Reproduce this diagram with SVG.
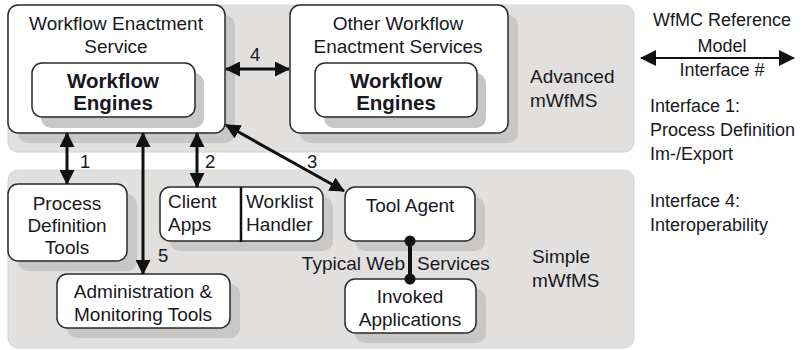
<svg xmlns="http://www.w3.org/2000/svg" width="801" height="350" viewBox="0 0 801 350">
  <defs>
    <marker id="head" viewBox="0 0 15 15" refX="14" refY="7.5" markerWidth="15" markerHeight="15" markerUnits="userSpaceOnUse" orient="auto-start-reverse">
      <path d="M0,0 L15,7.5 L0,15 z" fill="#111"/>
    </marker>
    <marker id="headL" viewBox="0 0 16 16" refX="15" refY="8" markerWidth="16" markerHeight="16" markerUnits="userSpaceOnUse" orient="auto-start-reverse">
      <path d="M0,0 L16,8 L0,16 z" fill="#111"/>
    </marker>
  </defs>
  <style>
    text { font-family: "Liberation Sans", Arial, sans-serif; font-size: 19px; fill: #181822; }
    .c { text-anchor: middle; }
    .b { font-weight: bold; font-size: 20.5px; }
    .num { font-size: 18.5px; }
    .leg { font-size: 18px; }
    .panel { fill: #e2e0df; stroke: #d6d4d3; stroke-width: 1; }
    .shadow { fill: #c9c7c5; }
    .box { fill: #ffffff; stroke: #2a2a2a; stroke-width: 1.5; }
    .conn { stroke: #111; stroke-width: 3; fill: none; }
  </style>

  <!-- background areas -->
  <rect class="panel" x="8" y="5" width="626" height="147" rx="10"/>
  <rect class="panel" x="8" y="170" width="626" height="178" rx="10"/>
  <text x="530" y="83">Advanced</text>
  <text x="530" y="107">mWfMS</text>
  <text x="532" y="263">Simple</text>
  <text x="532" y="287">mWfMS</text>

  <!-- Workflow Enactment Service -->
  <g id="wes">
    <rect class="shadow" x="18" y="15" width="217" height="128" rx="10"/>
    <rect class="box" x="8" y="5" width="217" height="128" rx="10"/>
    <text class="c" x="116" y="30">Workflow Enactment</text>
    <text class="c" x="116" y="53">Service</text>
  </g>
  <g id="wes-engines">
    <rect class="shadow" x="41" y="73" width="163" height="55" rx="10"/>
    <rect class="box" x="32" y="63" width="163" height="54" rx="10"/>
    <text class="c b" x="113" y="88">Workflow</text>
    <text class="c b" x="113" y="110">Engines</text>
  </g>

  <!-- Other Workflow Enactment Services -->
  <g id="owes">
    <rect class="shadow" x="300" y="15" width="218" height="128" rx="10"/>
    <rect class="box" x="290" y="5" width="218" height="128" rx="10"/>
    <text class="c" x="398" y="30">Other Workflow</text>
    <text class="c" x="398" y="53">Enactment Services</text>
  </g>
  <g id="owes-engines">
    <rect class="shadow" x="324" y="73" width="162" height="55" rx="10"/>
    <rect class="box" x="315" y="63" width="162" height="54" rx="10"/>
    <text class="c b" x="396" y="88">Workflow</text>
    <text class="c b" x="396" y="110">Engines</text>
  </g>

  <!-- Process Definition Tools -->
  <g id="pdt">
    <rect class="shadow" x="18" y="194" width="119" height="77" rx="10"/>
    <rect class="box" x="8" y="184" width="119" height="77" rx="10"/>
    <text class="c" x="67" y="210">Process</text>
    <text class="c" x="67" y="232">Definition</text>
    <text class="c" x="67" y="254">Tools</text>
  </g>

  <!-- Client Apps / Worklist Handler -->
  <g id="client">
    <rect class="shadow" x="170" y="197" width="163" height="54" rx="10"/>
    <rect class="box" x="160" y="187" width="163" height="54" rx="10"/>
    <line x1="241" y1="187" x2="241" y2="242" stroke="#111" stroke-width="2.5"/>
    <text x="168" y="208">Client</text>
    <text x="168" y="231">Apps</text>
    <text x="246" y="208">Worklist</text>
    <text x="246" y="231">Handler</text>
  </g>

  <!-- Tool Agent -->
  <g id="agent">
    <rect class="shadow" x="355" y="197" width="130" height="54" rx="10"/>
    <rect class="box" x="345" y="187" width="130" height="54" rx="10"/>
    <text class="c" x="410" y="212">Tool Agent</text>
  </g>

  <!-- Administration & Monitoring Tools -->
  <g id="admin">
    <rect class="shadow" x="67" y="284" width="173" height="54" rx="10"/>
    <rect class="box" x="57" y="274" width="173" height="54" rx="10"/>
    <text class="c" x="143" y="298">Administration &amp;</text>
    <text class="c" x="143" y="321">Monitoring Tools</text>
  </g>

  <!-- Invoked Applications -->
  <g id="invoked">
    <rect class="shadow" x="355" y="289" width="131" height="54" rx="10"/>
    <rect class="box" x="345" y="279" width="131" height="54" rx="10"/>
    <text class="c" x="410" y="303">Invoked</text>
    <text class="c" x="410" y="326">Applications</text>
  </g>

  <!-- connectors -->
  <g id="connectors">
    <line class="conn" x1="226" y1="69" x2="289" y2="69" marker-start="url(#head)" marker-end="url(#head)"/>
    <line class="conn" x1="67" y1="133" x2="67" y2="184" marker-start="url(#head)" marker-end="url(#head)"/>
    <line class="conn" x1="143" y1="133" x2="143" y2="274" marker-start="url(#head)" marker-end="url(#head)"/>
    <line class="conn" x1="197" y1="133" x2="197" y2="187" marker-start="url(#head)" marker-end="url(#head)"/>
    <line class="conn" x1="226" y1="125" x2="344" y2="191" stroke-width="2.5" marker-start="url(#head)" marker-end="url(#head)"/>
    <line x1="410" y1="241" x2="410" y2="279" stroke="#111" stroke-width="4"/>
    <circle cx="410" cy="241" r="5.5" fill="#111"/>
    <circle cx="410" cy="279" r="5.5" fill="#111"/>
    <text class="num" x="250" y="61">4</text>
    <text class="num" x="80" y="168">1</text>
    <text class="num" x="205" y="168">2</text>
    <text class="num" x="307" y="168">3</text>
    <text class="num" x="158" y="262">5</text>
    <text x="405" y="270" text-anchor="end">Typical Web</text>
    <text x="417" y="270">Services</text>
  </g>

  <!-- legend -->
  <g id="legend">
    <text class="c leg" x="722" y="26">WfMC Reference</text>
    <text class="c leg" x="722" y="52">Model</text>
    <line x1="641" y1="58" x2="794" y2="58" stroke="#111" stroke-width="2" marker-start="url(#headL)" marker-end="url(#headL)"/>
    <text class="c leg" x="722" y="76">Interface #</text>
    <text class="leg" x="650" y="112">Interface 1:</text>
    <text class="leg" x="650" y="136">Process Definition</text>
    <text class="leg" x="650" y="160">Im-/Export</text>
    <text class="leg" x="650" y="207">Interface 4:</text>
    <text class="leg" x="650" y="231">Interoperability</text>
  </g>
</svg>
